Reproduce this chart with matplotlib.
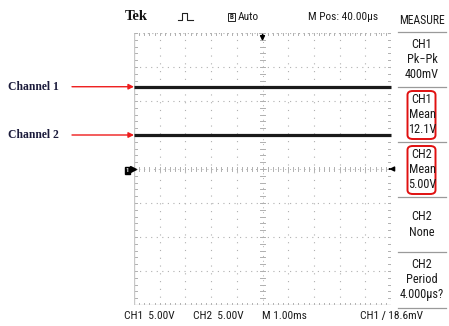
import matplotlib
matplotlib.use("Agg")
import matplotlib.pyplot as plt
from matplotlib.patches import FancyBboxPatch, Rectangle
from matplotlib.lines import Line2D
import numpy as np

W, H = 449, 326

# Scope settings and readings
channels = ["CH1", "CH2"]
channel_labels = ["Channel 1", "Channel 2"]
mean_volts = [12.1, 5.00]
volts_per_div = 5.0
time_per_div_ms = 1.0
n_div_x, n_div_y = 10, 8
sweep_ms = [0.0, 10.0]

measure_header = "MEASURE"
measure_blocks = [
    ["CH1", "Pk\u2212Pk", "400mV"],
    ["CH1", "Mean", "12.1V"],
    ["CH2", "Mean", "5.00V"],
    ["CH2", "None"],
    ["CH2", "Period", "4.000\u00b5s?"],
]
highlighted = [1, 2]
bottom_labels = ["CH1  5.00V", "CH2  5.00V", "M 1.00ms", "CH1 \u2215 18.6mV"]
top_labels = ["Auto", "M Pos: 40.00\u00b5s"]

NARROW = ["Roboto Condensed", "DejaVu Sans"]
SERIF = ["Liberation Serif", "DejaVu Serif"]
TXT = "#1a1a1a"

fig = plt.figure(figsize=(W / 100, H / 100), dpi=100)
fig.patch.set_facecolor("white")


def fx(x):
    return x / W


def fy(y):
    return 1 - y / H


def ftext(x, y, s, **kw):
    kw.setdefault("fontfamily", NARROW)
    kw.setdefault("color", TXT)
    kw.setdefault("fontsize", 8.2)
    kw.setdefault("va", "center")
    fig.text(fx(x), fy(y), s, **kw)


# Graticule area
gl, gr, gt, gb = 134, 391, 33, 305
ax = fig.add_axes([fx(gl), fy(gb), fx(gr - gl), (gb - gt) / H])
ax.set_xlim(0, n_div_x * time_per_div_ms)
ax.set_ylim(-n_div_y / 2 * volts_per_div, n_div_y / 2 * volts_per_div)
ax.set_xticks([])
ax.set_yticks([])
for s in ax.spines.values():
    s.set_visible(False)

grid_c = "#b0b0b0"
x0, x1 = ax.get_xlim()
y0, y1 = ax.get_ylim()
# dotted division lines
for i in range(1, n_div_x):
    xv = x0 + i * time_per_div_ms
    if i != n_div_x // 2:
        ax.plot([xv, xv], [y0, y1], color=grid_c, lw=0.8, ls=(0, (1, 6)))
for j in range(1, n_div_y):
    yv = y0 + j * volts_per_div
    if j != n_div_y // 2:
        ax.plot([x0, x1], [yv, yv], color=grid_c, lw=0.8, ls=(0, (1, 4)))
# center axes with minor ticks
xc = (x0 + x1) / 2
yc = (y0 + y1) / 2
ax.plot([xc, xc], [y0, y1], color=grid_c, lw=0.7, ls=(0, (1, 4)))
ax.plot([x0, x1], [yc, yc], color=grid_c, lw=0.7, ls=(0, (1, 4)))
mx = np.arange(x0, x1 + 1e-9, time_per_div_ms / 5)
my = np.arange(y0, y1 + 1e-9, volts_per_div / 5)
tick_h = 0.3
tick_w = 0.1
for xv in mx:
    ax.plot([xv, xv], [yc - tick_h, yc + tick_h], color=grid_c, lw=0.7)
    ax.plot([xv, xv], [y1, y1 - tick_h], color=grid_c, lw=0.7)
    ax.plot([xv, xv], [y0, y0 + tick_h], color=grid_c, lw=0.7)
for yv in my:
    ax.plot([xc - tick_w, xc + tick_w], [yv, yv], color=grid_c, lw=0.7)
    ax.plot([x0, x0 + tick_w], [yv, yv], color=grid_c, lw=0.7)
    ax.plot([x1, x1 - tick_w], [yv, yv], color=grid_c, lw=0.7)
# border
ax.plot([x0, x0], [y0, y1], color="#c8c8c8", lw=1.0)
ax.plot([x0, x1], [y0, y0], color="#c8c8c8", lw=1.0)
ax.plot([x1, x1], [y0, y1], color="#b0b0b0", lw=0.8, ls=(0, (1, 3)))
ax.plot([x0, x1], [y1, y1], color="#b0b0b0", lw=0.8, ls=(0, (1, 3)))

# traces
for v in mean_volts:
    ax.plot(sweep_ms, [v, v], color="#1a1a1a", lw=2.3, solid_capstyle="butt",
            clip_on=False)

# markers: trigger position, trigger level, ground reference
ax.annotate("", xy=(xc, y1 - 1.6), xytext=(xc, y1 + 0.2),
            arrowprops=dict(arrowstyle="-|>", color="black", lw=1.0,
                            mutation_scale=7), annotation_clip=False)
ax.annotate("", xy=(x1 - 0.18, yc), xytext=(x1 + 0.05, yc),
            arrowprops=dict(arrowstyle="-|>", color="black", lw=1.0,
                            mutation_scale=7), annotation_clip=False)
fig.patches.append(Rectangle((fx(125), fy(174)), fx(5), 7 / H, color="black",
                             transform=fig.transFigure))
ax.plot([x0 - 0.05], [yc], marker=">", color="black", ms=4.5, clip_on=False)
ftext(127.5, 170.5, "1", color="white", fontsize=4.5, ha="center",
      fontweight="bold")

# header
ftext(125, 17, "Tek", fontfamily=SERIF, fontsize=10.5, fontweight="bold",
      color="#111111")
pulse_x = [178, 182, 182, 187, 187, 193]
pulse_y = [20, 20, 13, 13, 20, 20]
fig.add_artist(Line2D([fx(v) for v in pulse_x], [fy(v) for v in pulse_y],
                      color="#222222", lw=0.8))
fig.patches.append(Rectangle((fx(228), fy(21)), fx(7), 8 / H, fill=False,
                             ec="#222222", lw=0.7, transform=fig.transFigure))
ftext(231.5, 17, "B", fontsize=5, ha="center", fontweight="bold")
ftext(238, 17, top_labels[0])
ftext(308, 17, top_labels[1])

# measure panel
px_c = 422
ftext(px_c, 20, measure_header, ha="center", fontsize=8.4)
sep_y = [32, 87, 142, 197, 252, 308]
for y in sep_y:
    fig.add_artist(Line2D([fx(398), fx(446)], [fy(y), fy(y)], color="#9a9a9a",
                          lw=0.9))
for k, block in enumerate(measure_blocks):
    top = sep_y[k]
    n = len(block)
    start = top + 27.5 - (n - 1) * 7.5
    for m, line in enumerate(block):
        ftext(px_c, start + m * 15, line, ha="center", fontsize=8.8)
    if k in highlighted:
        fig.patches.append(FancyBboxPatch(
            (fx(407.5), fy(top + 52)), fx(28), 48 / H,
            boxstyle="round,pad=0,rounding_size=0.012",
            fill=False, ec="#e01010", lw=1.4, transform=fig.transFigure))

# bottom readout
ftext(124, 316, bottom_labels[0])
ftext(193, 316, bottom_labels[1])
ftext(262, 316, bottom_labels[2])
ftext(360, 316, bottom_labels[3])

# channel call-outs
for lab, v in zip(channel_labels, mean_volts):
    ypix = ax.transData.transform((0, v))[1]
    yfig = ypix / fig.dpi / fig.get_figheight()
    fig.text(fx(8), yfig, lab, fontfamily=SERIF, fontsize=8.4,
             fontweight="bold", color="#1c1c3c", va="center")
    ax.annotate("", xy=(x0, v), xycoords="data",
                xytext=(fx(72), yfig), textcoords="figure fraction",
                arrowprops=dict(arrowstyle="-|>", color="#ee1c1c", lw=1.0,
                                mutation_scale=8, shrinkA=0, shrinkB=0),
                annotation_clip=False)

fig.savefig("out.png", dpi=100, facecolor="white")
